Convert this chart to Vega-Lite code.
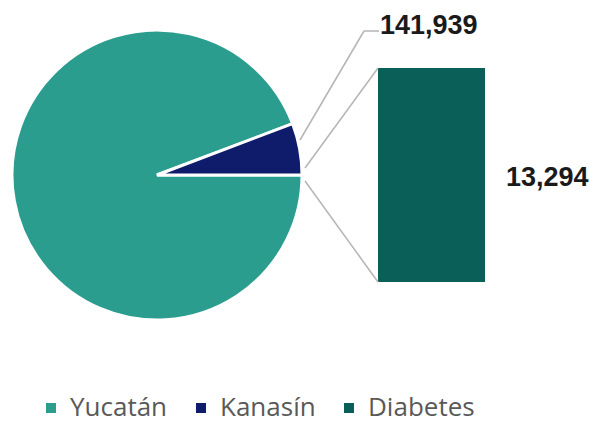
{
  "$schema": "https://vega.github.io/schema/vega-lite/v6.json",
  "width": 604,
  "height": 423,
  "autosize": "none",
  "padding": 0,
  "background": "white",
  "config": {"view": {"stroke": null}},
  "datasets": {
    "pie": [
      {"name": "Yucatán", "value": 2320898},
      {"name": "Kanasín", "value": 141939}
    ],
    "bar": [
      {"name": "Diabetes", "value": 13294}
    ]
  },
  "layer": [
    {
      "data": {"name": "pie"},
      "mark": {"type": "arc", "x": 157, "y": 175, "outerRadius": 145, "stroke": "white", "strokeWidth": 3},
      "encoding": {
        "theta": {"field": "value", "type": "quantitative", "stack": true, "scale": {"range": [1.5708, 7.854]}},
        "order": {"field": "value", "sort": "descending"},
        "color": {
          "field": "name", "type": "nominal",
          "scale": {"domain": ["Yucatán", "Kanasín", "Diabetes"], "range": ["#2A9D8F", "#0E1C6B", "#0A5F58"]},
          "legend": {
            "title": null, "orient": "none", "legendX": 38, "legendY": 395, "direction": "horizontal",
            "symbolType": "square", "symbolSize": 100, "symbolStrokeWidth": 0,
            "labelFont": "Open Sans", "labelFontSize": 26, "labelColor": "#595959",
            "columnPadding": 20, "labelOffset": 6
          }
        }
      }
    },
    {
      "data": {"name": "bar"},
      "mark": {"type": "bar"},
      "encoding": {
        "x": {"value": 378},
        "x2": {"value": 485},
        "y": {"field": "value", "type": "quantitative", "scale": {"domain": [0, 13294], "range": [282, 68]}, "axis": null},
        "y2": {"datum": 0},
        "color": {"field": "name", "type": "nominal"}
      }
    },
    {
      "data": {"name": "bar"},
      "mark": {"type": "text", "x": 506, "y": 178, "align": "left", "baseline": "middle", "font": "Liberation Sans", "fontWeight": "bold", "fontSize": 27, "color": "#1a1a1a"},
      "encoding": {"text": {"field": "value", "type": "quantitative", "format": ","}}
    },
    {
      "data": {"name": "pie"},
      "transform": [{"filter": "datum.name === 'Kanasín'"}],
      "mark": {"type": "text", "x": 380, "y": 26, "align": "left", "baseline": "middle", "font": "Liberation Sans", "fontWeight": "bold", "fontSize": 27, "color": "#1a1a1a"},
      "encoding": {"text": {"field": "value", "type": "quantitative", "format": ","}}
    },
    {
      "data": {"values": [{"seg": "a"}]},
      "mark": {"type": "rule", "color": "#b5b5b5", "strokeWidth": 1.5},
      "encoding": {"x": {"value": 300}, "y": {"value": 140}, "x2": {"value": 364}, "y2": {"value": 31}}
    },
    {
      "data": {"values": [{"seg": "b"}]},
      "mark": {"type": "rule", "color": "#b5b5b5", "strokeWidth": 1.5},
      "encoding": {"x": {"value": 364}, "y": {"value": 31}, "x2": {"value": 379}, "y2": {"value": 31}}
    },
    {
      "data": {"values": [{"seg": "c"}]},
      "mark": {"type": "rule", "color": "#b5b5b5", "strokeWidth": 1.5},
      "encoding": {"x": {"value": 305}, "y": {"value": 168}, "x2": {"value": 378}, "y2": {"value": 68}}
    },
    {
      "data": {"values": [{"seg": "d"}]},
      "mark": {"type": "rule", "color": "#b5b5b5", "strokeWidth": 1.5},
      "encoding": {"x": {"value": 305}, "y": {"value": 181}, "x2": {"value": 378}, "y2": {"value": 282}}
    }
  ],
  "resolve": {"scale": {"y": "independent"}}
}
